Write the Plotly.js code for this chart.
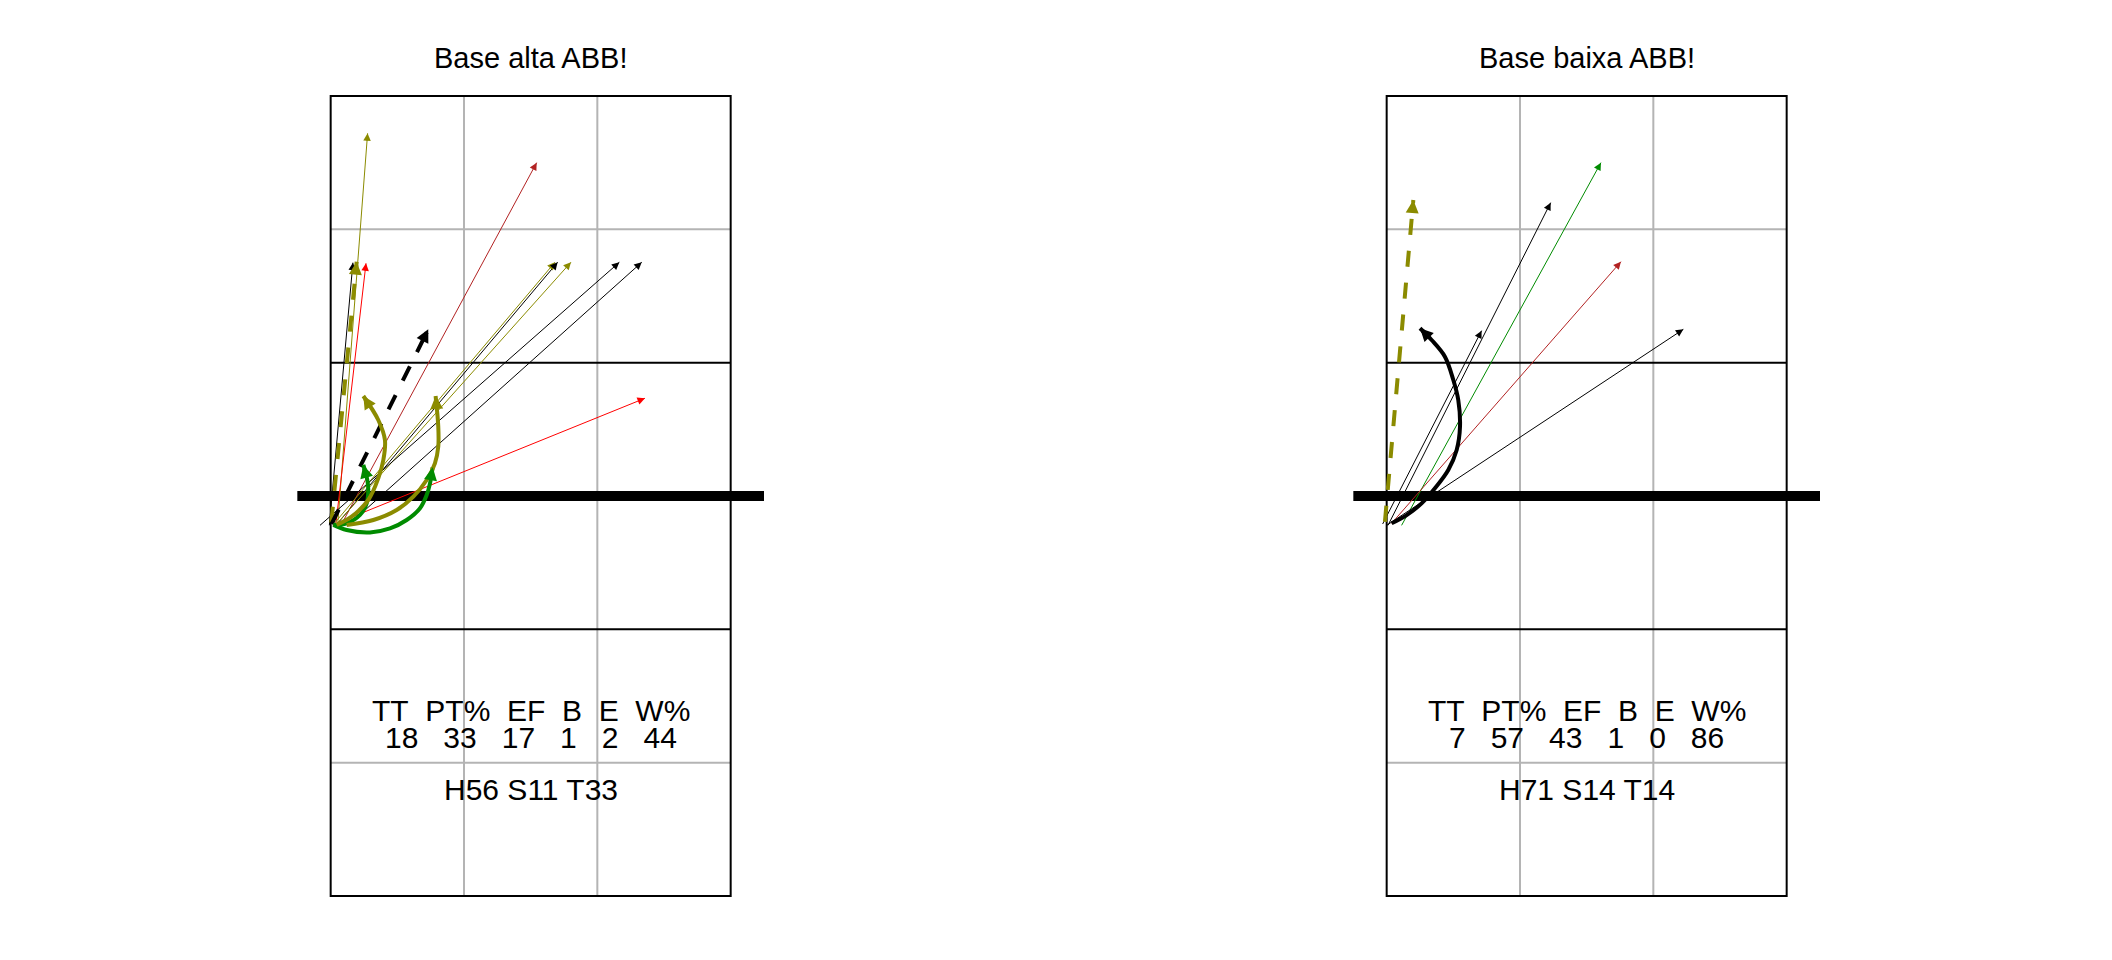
<!DOCTYPE html>
<html><head><meta charset="utf-8">
<script src="https://cdn.plot.ly/plotly-3.0.1.min.js"></script>
<style>html,body{margin:0;padding:0;background:#fff}#chart{width:2112px;height:960px}</style>
</head><body><div id="chart"></div>
<script>
// ---------- data ----------
const panelTitles = ['Base alta ABB!', 'Base baixa ABB!'];
const statHeaders = ['TT', 'PT%', 'EF', 'B', 'E', 'W%'];
const leftStats = [18, 33, 17, 1, 2, 44];
const rightStats = [7, 57, 43, 1, 0, 86];
const summaries = ['H56 S11 T33', 'H71 S14 T14'];

// straight arrows, left panel (start -> end, court units)
const leftX0 = [0.553, 0.577, 0.538, 0.490, 0.515, 0.540, 0.535, 0.420, 0.630, 0.555, 0.505, 0.507];
const leftY0 = [3.29, 3.28, 3.28, 3.28, 3.28, 3.28, 3.28, 3.28, 3.28, 3.30, 3.30, 3.29];
const leftX1 = [0.777, 2.045, 0.765, 0.667, 2.182, 2.202, 2.302, 2.665, 2.833, 2.857, 0.695, 1.232];
const leftY1 = [6.22, 6.00, 5.245, 5.25, 5.253, 5.253, 5.253, 5.253, 5.253, 4.233, 5.257, 4.75];
const leftColors = ['olive', 'brick', 'red', 'black', 'olive', 'black', 'olive', 'black', 'black', 'red', 'olive', 'black'];
const leftKinds = ['thin', 'thin', 'thin', 'thin', 'thin', 'thin', 'thin', 'thin', 'thin', 'thin', 'dash', 'dash'];

// straight arrows, right panel
const rightX0 = [0.470, 0.510, 0.612, 0.537, 0.500, 0.487];
const rightY0 = [3.29, 3.28, 3.28, 3.295, 3.28, 3.307];
const rightX1 = [1.212, 1.730, 2.107, 2.257, 2.725, 0.700];
const rightY1 = [4.74, 5.70, 6.00, 5.257, 4.75, 5.72];
const rightColors = ['black', 'black', 'green', 'brick', 'black', 'olive'];
const rightKinds = ['thin', 'thin', 'thin', 'thin', 'thin', 'dash'];

// curved arrows
const leftCurveOliveAX = [0.545, 0.657, 0.782, 0.857, 0.895, 0.907, 0.857, 0.745];
const leftCurveOliveAY = [3.283, 3.345, 3.470, 3.633, 3.770, 3.920, 4.070, 4.250];
const leftCurveOliveBX = [0.620, 0.820, 0.995, 1.120, 1.220, 1.282, 1.307, 1.307, 1.287];
const leftCurveOliveBY = [3.283, 3.320, 3.395, 3.495, 3.620, 3.745, 3.870, 4.020, 4.250];
const leftCurveGreenAX = [0.520, 0.620, 0.720, 0.770, 0.782, 0.775, 0.745];
const leftCurveGreenAY = [3.283, 3.295, 3.358, 3.445, 3.545, 3.620, 3.733];
const leftCurveGreenBX = [0.520, 0.620, 0.795, 0.945, 1.070, 1.170, 1.220, 1.245, 1.265];
const leftCurveGreenBY = [3.283, 3.245, 3.227, 3.257, 3.320, 3.408, 3.507, 3.595, 3.715];
const rightCurveBlackX = [0.537, 0.650, 0.762, 0.862, 0.962, 1.025, 1.050, 1.037, 1.000, 0.937, 0.837, 0.750];
const rightCurveBlackY = [3.295, 3.357, 3.445, 3.558, 3.695, 3.845, 4.020, 4.220, 4.370, 4.545, 4.670, 4.758];

// ---------- styles ----------
const COLORS = {olive: '#8B8B00', green: '#008B00', red: '#FF0000', brick: '#B22222', black: '#000000'};
const KINDS = {
  thin:  {width: 1, dash: 'solid', headSize: 1.5, headLen: 9},
  dash:  {width: 4, dash: '16px,16px', headSize: 0.65, headLen: 13.5},
  curve: {width: 4, dash: 'solid', headSize: 0.65, headLen: 13.5}
};
const FONT = 'Liberation Sans, Arial, Helvetica, sans-serif';

const traces = [];
const annotations = [];

function addHead(ax, ay, px, py, tx, ty, color, kind) {
  const k = KINDS[kind];
  const dx = tx - px, dy = ty - py;
  const n = Math.sqrt(dx * dx + dy * dy) || 1;
  annotations.push({
    xref: ax, yref: ay, x: tx, y: ty, text: '', showarrow: true,
    axref: 'pixel', ayref: 'pixel',
    ax: -k.headLen * dx / n, ay: k.headLen * dy / n,
    arrowhead: 2, arrowwidth: k.width, arrowsize: k.headSize,
    arrowcolor: color, standoff: 0
  });
}

function addStraight(ax, ay, X0, Y0, X1, Y1, cols, kinds) {
  for (let i = 0; i < X0.length; i++) {
    const k = KINDS[kinds[i]];
    const c = COLORS[cols[i]];
    traces.push({
      type: 'scatter', mode: 'lines', xaxis: ax, yaxis: ay,
      x: [X0[i], X1[i]], y: [Y0[i], Y1[i]],
      line: {color: c, width: k.width, dash: k.dash},
      hoverinfo: 'skip', showlegend: false
    });
    addHead(ax, ay, X0[i], Y0[i], X1[i], Y1[i], c, kinds[i]);
  }
}

function addCurve(ax, ay, X, Y, col) {
  const k = KINDS.curve;
  const c = COLORS[col];
  traces.push({
    type: 'scatter', mode: 'lines', xaxis: ax, yaxis: ay,
    x: X, y: Y, line: {color: c, width: k.width, shape: 'spline', smoothing: 1},
    hoverinfo: 'skip', showlegend: false
  });
  const n = X.length;
  addHead(ax, ay, X[n - 2], Y[n - 2], X[n - 1], Y[n - 1], c, 'curve');
}

// left panel
addStraight('x', 'y', leftX0, leftY0, leftX1, leftY1, leftColors, leftKinds);
addCurve('x', 'y', leftCurveGreenBX, leftCurveGreenBY, 'green');
addCurve('x', 'y', leftCurveGreenAX, leftCurveGreenAY, 'green');
addCurve('x', 'y', leftCurveOliveBX, leftCurveOliveBY, 'olive');
addCurve('x', 'y', leftCurveOliveAX, leftCurveOliveAY, 'olive');
// right panel
addStraight('x2', 'y2', rightX0, rightY0, rightX1, rightY1, rightColors, rightKinds);
addCurve('x2', 'y2', rightCurveBlackX, rightCurveBlackY, 'black');

// ---------- court ----------
const shapes = [];
[['x', 'y'], ['x2', 'y2']].forEach(([xr, yr]) => {
  const gray = {color: '#B4B4B4', width: 2};
  const blk = {color: '#000000', width: 2};
  [1.5, 2.5].forEach(v => shapes.push({type: 'line', layer: 'below', xref: xr, yref: yr, x0: v, x1: v, y0: 0.5, y1: 6.5, line: gray}));
  [1.5, 5.5].forEach(v => shapes.push({type: 'line', layer: 'below', xref: xr, yref: yr, x0: 0.5, x1: 3.5, y0: v, y1: v, line: gray}));
  [2.5, 4.5].forEach(v => shapes.push({type: 'line', layer: 'below', xref: xr, yref: yr, x0: 0.5, x1: 3.5, y0: v, y1: v, line: blk}));
  shapes.push({type: 'rect', layer: 'below', xref: xr, yref: yr, x0: 0.5, x1: 3.5, y0: 0.5, y1: 6.5, line: blk, fillcolor: 'rgba(0,0,0,0)'});
  shapes.push({type: 'line', layer: 'below', xref: xr, yref: yr, x0: 0.25, x1: 3.75, y0: 3.5, y1: 3.5, line: {color: '#000000', width: 10}});
});

// ---------- texts ----------
const sp2 = '\u00a0\u00a0', sp3 = '\u00a0\u00a0\u00a0';
const statsSets = [leftStats, rightStats];
[['x', 'y'], ['x2', 'y2']].forEach(([xr, yr], i) => {
  annotations.push({xref: xr, yref: 'paper', x: 2, y: 0.9396, yanchor: 'middle', xanchor: 'center',
    text: panelTitles[i], showarrow: false, font: {family: FONT, size: 29, color: '#000'}});
  annotations.push({xref: xr, yref: yr, x: 2, y: 1.89, yanchor: 'middle', xanchor: 'center',
    text: statHeaders.join(sp2), showarrow: false, font: {family: FONT, size: 30, color: '#000'}});
  annotations.push({xref: xr, yref: yr, x: 2, y: 1.69, yanchor: 'middle', xanchor: 'center',
    text: statsSets[i].join(sp3), showarrow: false, font: {family: FONT, size: 30, color: '#000'}});
  annotations.push({xref: xr, yref: yr, x: 2, y: 1.295, yanchor: 'middle', xanchor: 'center',
    text: summaries[i], showarrow: false, font: {family: FONT, size: 30, color: '#000'}});
});

const ax = (dom) => ({domain: dom, range: [0, 4], visible: false, fixedrange: true, showgrid: false, zeroline: false});
const ay = (dom) => ({domain: dom, range: [0.2, 6.8], visible: false, fixedrange: true, showgrid: false, zeroline: false});
const layout = {
  width: 2112, height: 960,
  margin: {l: 0, r: 0, t: 0, b: 0, pad: 0},
  paper_bgcolor: '#ffffff', plot_bgcolor: 'rgba(0,0,0,0)',
  showlegend: false, hovermode: false,
  xaxis: Object.assign(ax([0.125, 0.377525]), {anchor: 'y'}),
  yaxis: Object.assign(ay([0.025, 0.941667]), {anchor: 'x'}),
  xaxis2: Object.assign(ax([0.625, 0.877525]), {anchor: 'y2'}),
  yaxis2: Object.assign(ay([0.025, 0.941667]), {anchor: 'x2'}),
  shapes: shapes,
  annotations: annotations
};
Plotly.newPlot('chart', traces, layout, {staticPlot: true, displayModeBar: false});
</script>
</body></html>
